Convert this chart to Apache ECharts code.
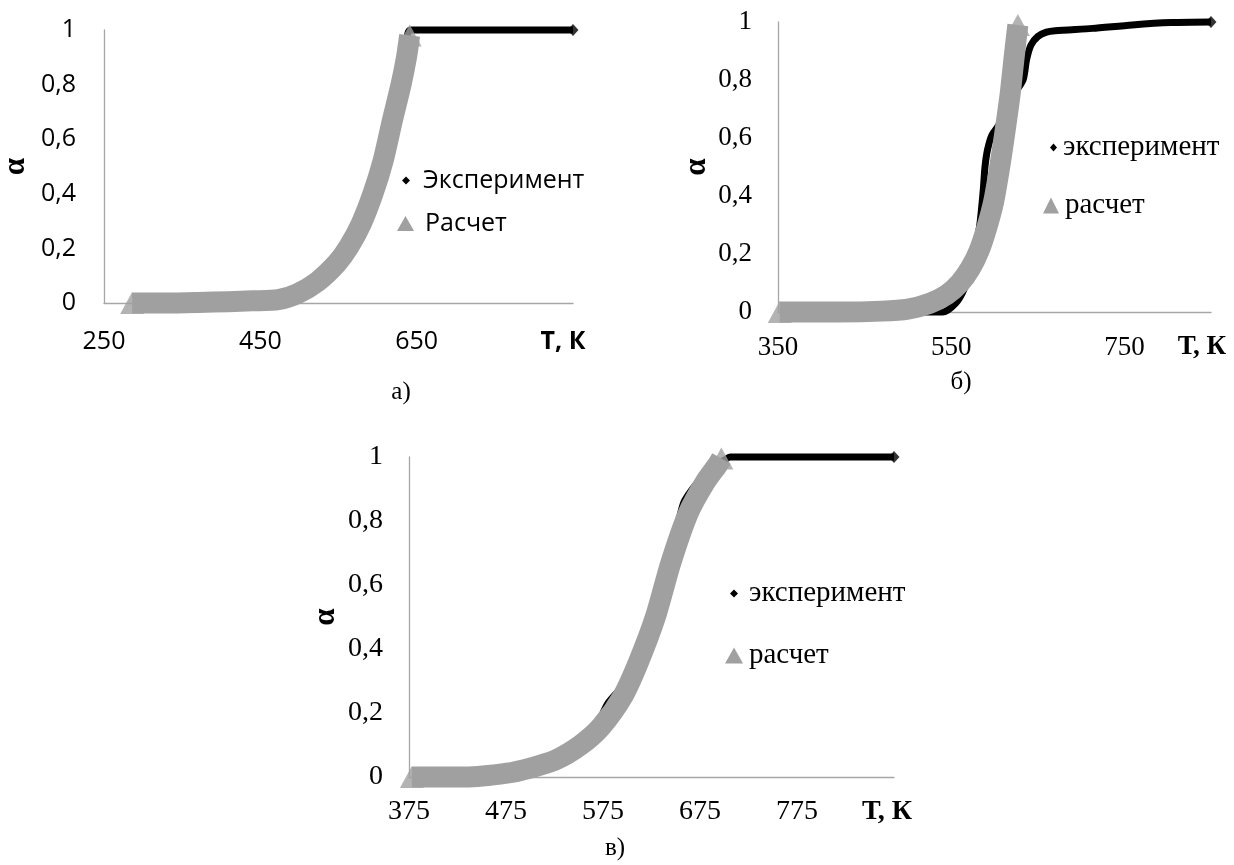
<!DOCTYPE html>
<html>
<head>
<meta charset="utf-8">
<script src="https://cdn.jsdelivr.net/npm/echarts@6/dist/echarts.min.js"></script>
<style>
html,body{margin:0;padding:0;background:#fff}
#main{width:1234px;height:865px}
</style>
</head>
<body>
<div id="main"></div>
<script>
// а) — Эксперимент / Расчет
var tExpA = [300, 400, 470, 500, 520, 540, 560, 580, 600, 615, 628, 636, 642, 700, 760, 850];
var aExpA = [0, 0.003, 0.012, 0.035, 0.08, 0.15, 0.22, 0.31, 0.46, 0.62, 0.79, 0.92, 1, 1, 1, 1];
var tCalcA = [286, 330, 371, 409, 440, 473, 498, 523, 548, 563, 579, 594, 607, 619, 630, 637, 641];
var aCalcA = [0, 0, 0.002, 0.005, 0.008, 0.012, 0.035, 0.078, 0.146, 0.205, 0.29, 0.40, 0.52, 0.67, 0.80, 0.90, 0.98];

// б)
var tExpB = [360, 450, 540, 555, 565, 572, 578, 583, 587, 589, 592, 597, 604, 612, 620, 633, 637, 642, 650, 660, 670, 713, 759, 804, 850];
var aExpB = [0, 0, 0, 0.03, 0.08, 0.15, 0.22, 0.3, 0.42, 0.5, 0.56, 0.61, 0.64, 0.68, 0.74, 0.8, 0.87, 0.92, 0.95, 0.965, 0.97, 0.978, 0.99, 0.998, 1];
var tCalcB = [352, 420, 470, 500, 525, 545, 560, 572, 582, 591, 599, 606, 612, 618, 622, 625, 627];
var aCalcB = [0, 0, 0.003, 0.01, 0.03, 0.06, 0.1, 0.15, 0.21, 0.29, 0.38, 0.5, 0.62, 0.75, 0.86, 0.94, 0.99];

// в)
var tExpC = [385, 450, 500, 540, 565, 580, 597, 612, 628, 645, 658, 675, 690, 700, 706, 750, 800, 875];
var aExpC = [0, 0.003, 0.025, 0.075, 0.14, 0.23, 0.29, 0.365, 0.50, 0.68, 0.856, 0.93, 0.975, 0.99, 1, 1, 1, 1];
var tCalcC = [378, 433, 476, 500, 526, 552, 573, 595, 611, 629, 645, 663, 680, 693, 697];
var aCalcC = [0, 0, 0.012, 0.028, 0.053, 0.10, 0.157, 0.25, 0.355, 0.50, 0.67, 0.825, 0.92, 0.975, 0.995];

// axis ranges [min, max, step]
var xRangeA = [250, 850, 200];
var xRangeB = [350, 850, 200];
var xRangeC = [375, 875, 100];
var yRange = [0, 1, 0.2];

var captions = ['а)', 'б)', 'в)'];

var GREY = '#a0a0a0', AXIS = '#a6a6a6';
var SANS = '"Open Sans"', SERIF = '"Liberation Serif"';

function pts(t, a) {
    return t.map(function (v, i) { return [v, a[i]]; });
}

var panels = [
    {grid: {left: 104, top: 30, width: 469, height: 273}, xr: xRangeA, font: SANS, fs: 25,
     exp: pts(tExpA, aExpA), calc: pts(tCalcA, aCalcA), names: ['Эксперимент', 'Расчет'],
     xMargin: 26, yMargin: 28, namePad: 26, nameGap: -10, alphaGap: 73},
    {grid: {left: 778, top: 22, width: 433, height: 290}, xr: xRangeB, font: SERIF, fs: 27,
     exp: pts(tExpB, aExpB), calc: pts(tCalcB, aCalcB), names: ['эксперимент', 'расчет'],
     xMargin: 22, yMargin: 26, namePad: 22, nameGap: -9, alphaGap: 66},
    {grid: {left: 409, top: 457, width: 485, height: 320}, xr: xRangeC, font: SERIF, fs: 28,
     exp: pts(tExpC, aExpC), calc: pts(tCalcC, aCalcC), names: ['эксперимент', 'расчет'],
     xMargin: 21, yMargin: 26, namePad: 21, nameGap: -7, alphaGap: 68}
];

var grids = [], xAxes = [], yAxes = [], series = [];
panels.forEach(function (p, k) {
    var g = p.grid; g.outerBoundsMode = 'none';
    grids.push(g);
    xAxes.push({
        type: 'value', gridIndex: k, min: p.xr[0], max: p.xr[1], interval: p.xr[2],
        axisLine: {show: true, onZero: false, lineStyle: {color: AXIS, width: 1.3}},
        axisTick: {show: false}, splitLine: {show: false},
        axisLabel: {showMaxLabel: false, margin: p.xMargin, color: '#000',
            fontFamily: p.font, fontSize: p.fs, lineHeight: p.fs},
        name: 'Т, К', nameLocation: 'end', nameGap: p.nameGap,
        nameTextStyle: {color: '#000', fontFamily: p.font, fontSize: p.fs, fontWeight: 'bold',
            lineHeight: p.fs, align: 'center', verticalAlign: 'top', padding: [p.namePad, 0, 0, 0]}
    });
    yAxes.push({
        type: 'value', gridIndex: k, min: yRange[0], max: yRange[1], interval: yRange[2],
        axisLine: {show: true, lineStyle: {color: AXIS, width: 1.3}},
        axisTick: {show: false}, splitLine: {show: false},
        axisLabel: {margin: p.yMargin, color: '#000', fontFamily: p.font, fontSize: p.fs,
            formatter: function (v) { return String(v).replace('.', ','); }},
        name: 'α', nameLocation: 'middle', nameGap: p.alphaGap,
        nameTextStyle: {color: '#000', fontFamily: SERIF, fontSize: 31, fontWeight: 'bold'}
    });
    series.push({
        name: p.names[0], type: 'line', xAxisIndex: k, yAxisIndex: k, data: p.exp,
        showSymbol: false, smooth: 0.25, clip: false, z: 2,
        itemStyle: {color: '#000'}, lineStyle: {color: '#000', width: 7, join: 'round'}
    });
    series.push({
        type: 'scatter', xAxisIndex: k, yAxisIndex: k, data: [p.exp[p.exp.length - 1]],
        symbol: 'diamond', symbolSize: [11, 12], clip: false, z: 2, silent: true,
        itemStyle: {color: '#000'}
    });
    series.push({
        name: p.names[1], type: 'line', xAxisIndex: k, yAxisIndex: k, data: p.calc,
        showSymbol: false, smooth: 0.25, clip: false, z: 3,
        itemStyle: {color: GREY}, lineStyle: {color: GREY, width: 21, join: 'round', cap: 'butt'}
    });
    series.push({
        type: 'scatter', xAxisIndex: k, yAxisIndex: k, data: [p.calc[0], p.calc[p.calc.length - 1]],
        symbol: 'triangle', symbolSize: [24, 22], clip: false, z: 3, silent: true,
        itemStyle: {color: GREY}
    });
});

function leg(name, icon, left, top, w, h, font, fs, padLeft) {
    return {
        data: [{name: name, icon: icon}], left: left, top: top, padding: 0,
        itemWidth: w, itemHeight: h, selectedMode: false,
        textStyle: {color: '#000', fontFamily: font, fontSize: fs, lineHeight: fs, padding: [0, 0, 0, padLeft]}
    };
}

var legends = [
    leg('Эксперимент', 'diamond', 402, 168, 8, 8, SANS, 25, 8),
    leg('Расчет', 'triangle', 397, 211, 17, 15, SANS, 25, 6),
    leg('эксперимент', 'diamond', 1050, 133, 7, 8, SERIF, 29, 1),
    leg('расчет', 'triangle', 1043, 191, 16, 16, SERIF, 29, 1),
    leg('эксперимент', 'diamond', 730, 579, 8, 8, SERIF, 29, 6),
    leg('расчет', 'triangle', 725, 641, 18, 16, SERIF, 29, 1)
];

var capPos = [[401, 392], [961, 382], [615, 848]];
var graphics = captions.map(function (c, i) {
    return {type: 'text', x: capPos[i][0], y: capPos[i][1],
        style: {text: c, font: '25px "Liberation Serif"', fill: '#000',
            textAlign: 'center', textVerticalAlign: 'middle', align: 'center', verticalAlign: 'middle'}};
});

var chart = echarts.init(document.getElementById('main'));
chart.setOption({
    animation: false,
    backgroundColor: '#fff',
    grid: grids, xAxis: xAxes, yAxis: yAxes,
    legend: legends,
    graphic: graphics,
    series: series
});
</script>
</body>
</html>
